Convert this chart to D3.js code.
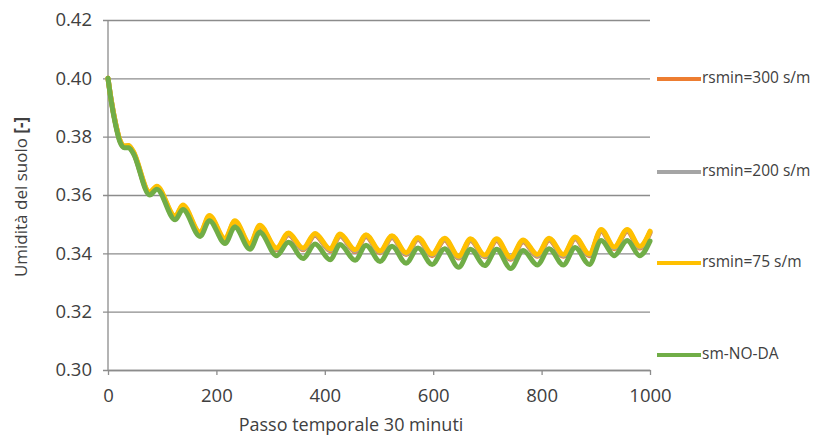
<!DOCTYPE html>
<html>
<head>
<meta charset="utf-8">
<script src="https://cdn.jsdelivr.net/npm/d3@7"></script>
<style>
  html, body { margin: 0; padding: 0; background: #fff; }
  svg { display: block; }
  text { font-family: "Open Sans", "Noto Sans", sans-serif; fill: #404040; }
</style>
</head>
<body>
<svg id="chart" width="813" height="439"></svg>
<script>
// Time step (30-minute steps) of each turning point of the soil-moisture curves
const steps = [0, 6, 14, 22, 30, 38, 46, 77, 90, 124, 138, 170, 187, 216, 234, 262, 280, 311, 333,
  360, 382, 410, 428, 456, 476, 502, 524, 550, 572, 598, 621, 647, 669, 695, 717, 743, 766,
  792, 814, 840, 862, 888, 910, 934, 958, 981, 1000];

// Soil moisture [-] for each run
const rsmin300 = [0.4000, 0.3924, 0.3844, 0.3786, 0.3765, 0.3767, 0.3748, 0.3605, 0.3624, 0.3522, 0.3560, 0.3465, 0.3524,
  0.3444, 0.3506, 0.3426, 0.3490, 0.3412, 0.3464, 0.3412, 0.3462, 0.3409, 0.3460, 0.3406, 0.3458,
  0.3402, 0.3454, 0.3396, 0.3448, 0.3392, 0.3446, 0.3384, 0.3444, 0.3388, 0.3444, 0.3380, 0.3440,
  0.3390, 0.3446, 0.3390, 0.3450, 0.3392, 0.3476, 0.3416, 0.3476, 0.3418, 0.3470];
const rsmin200 = [0.4000, 0.3925, 0.3845, 0.3787, 0.3767, 0.3769, 0.3750, 0.3608, 0.3627, 0.3525, 0.3563, 0.3468, 0.3527,
  0.3447, 0.3509, 0.3429, 0.3493, 0.3415, 0.3467, 0.3415, 0.3465, 0.3412, 0.3463, 0.3409, 0.3461,
  0.3405, 0.3457, 0.3399, 0.3451, 0.3395, 0.3449, 0.3387, 0.3447, 0.3391, 0.3447, 0.3383, 0.3443,
  0.3393, 0.3449, 0.3393, 0.3453, 0.3395, 0.3479, 0.3419, 0.3479, 0.3421, 0.3473];
const rsmin75 = [0.4000, 0.3925, 0.3846, 0.3788, 0.3768, 0.3770, 0.3752, 0.3610, 0.3630, 0.3528, 0.3566, 0.3471, 0.3530,
  0.3450, 0.3512, 0.3432, 0.3496, 0.3418, 0.3470, 0.3418, 0.3468, 0.3415, 0.3466, 0.3412, 0.3464,
  0.3408, 0.3460, 0.3402, 0.3454, 0.3398, 0.3452, 0.3390, 0.3450, 0.3394, 0.3450, 0.3386, 0.3446,
  0.3396, 0.3452, 0.3396, 0.3456, 0.3398, 0.3482, 0.3422, 0.3482, 0.3424, 0.3476];
const smNoDA = [0.4000, 0.3920, 0.3840, 0.3782, 0.3762, 0.3762, 0.3745, 0.3600, 0.3620, 0.3515, 0.3550, 0.3458, 0.3512,
  0.3434, 0.3490, 0.3414, 0.3472, 0.3392, 0.3438, 0.3382, 0.3432, 0.3378, 0.3430, 0.3376, 0.3428,
  0.3372, 0.3424, 0.3366, 0.3418, 0.3362, 0.3416, 0.3352, 0.3414, 0.3358, 0.3414, 0.3348, 0.3410,
  0.3360, 0.3416, 0.3360, 0.3420, 0.3362, 0.3444, 0.3392, 0.3444, 0.3392, 0.3442];

const seriesNames = ["rsmin=300 s/m", "rsmin=200 s/m", "rsmin=75 s/m", "sm-NO-DA"];
const seriesColors = ["#ED7D31", "#A5A5A5", "#FFC000", "#70AD47"];
const seriesValues = [rsmin300, rsmin200, rsmin75, smNoDA];

const yTicks = [0.30, 0.32, 0.34, 0.36, 0.38, 0.40, 0.42];
const xTicks = [0, 200, 400, 600, 800, 1000];
const xTitle = "Passo temporale 30 minuti";
const yTitle = "Umidità del suolo ";

const svg = d3.select("#chart");
const plot = { left: 108, right: 650, top: 20, bottom: 370 };

const x = d3.scaleLinear().domain([0, 1000]).range([plot.left, plot.right]);
const y = d3.scaleLinear().domain([0.30, 0.42]).range([plot.bottom, plot.top]);

// horizontal gridlines with short outer ticks
const yAxis = d3.axisLeft(y).tickValues(yTicks).tickFormat(d3.format(".2f"))
  .tickSize(-(plot.right - plot.left)).tickSizeOuter(0).tickPadding(16);
const gy = svg.append("g").attr("transform", `translate(${plot.left},0)`).call(yAxis);
gy.select(".domain").remove();
gy.selectAll(".tick line").attr("stroke", "#8c8c8c").attr("stroke-width", 1.3)
  .attr("x1", -5);
gy.selectAll(".tick text").attr("font-size", 18.5).attr("fill", "#404040")
  .style("font-family", "'Open Sans', sans-serif");

// vertical axis line
svg.append("line").attr("x1", plot.left).attr("x2", plot.left)
  .attr("y1", plot.top).attr("y2", plot.bottom)
  .attr("stroke", "#8c8c8c").attr("stroke-width", 1.3);

// bottom axis
const xAxis = d3.axisBottom(x).tickValues(xTicks).tickFormat(d3.format("d"))
  .tickSize(5).tickSizeOuter(0).tickPadding(14);
const gx = svg.append("g").attr("transform", `translate(0,${plot.bottom})`).call(xAxis);
gx.select(".domain").attr("stroke", "#8c8c8c").attr("stroke-width", 1.3);
gx.selectAll(".tick line").attr("stroke", "#8c8c8c").attr("stroke-width", 1.3);
gx.selectAll(".tick text").attr("font-size", 18.5).attr("fill", "#404040")
  .style("font-family", "'Open Sans', sans-serif");

// curves
const line = d3.line()
  .x((d, i) => x(steps[i]))
  .y(d => y(d))
  .curve(d3.curveMonotoneX);

svg.append("g").selectAll("path").data(seriesValues).join("path")
  .attr("d", d => line(d))
  .attr("fill", "none")
  .attr("stroke", (d, i) => seriesColors[i])
  .attr("stroke-width", 5)
  .attr("stroke-linejoin", "round")
  .attr("stroke-linecap", "round");

// axis titles
svg.append("text")
  .attr("x", 351).attr("y", 426)
  .attr("text-anchor", "middle").attr("dominant-baseline", "middle")
  .attr("font-size", 18)
  .text(xTitle);

const yt = svg.append("text")
  .attr("transform", "translate(22,197) rotate(-90)")
  .attr("text-anchor", "middle").attr("dominant-baseline", "middle")
  .attr("font-size", 17);
yt.append("tspan").text(yTitle);
yt.append("tspan").attr("font-weight", "bold").text("[-]");

// legend
const legendY = [79, 172, 263, 355];
const lg = svg.append("g").selectAll("g").data(seriesNames).join("g")
  .attr("transform", (d, i) => `translate(657,${legendY[i]})`);
lg.append("line").attr("x1", 0).attr("x2", 44).attr("y1", 0).attr("y2", 0)
  .attr("stroke", (d, i) => seriesColors[i]).attr("stroke-width", 4);
lg.append("text").attr("x", 45).attr("y", 0)
  .attr("dominant-baseline", "middle").attr("font-size", 15.5)
  .attr("fill", "#404040")
  .text(d => d);
</script>
</body>
</html>
